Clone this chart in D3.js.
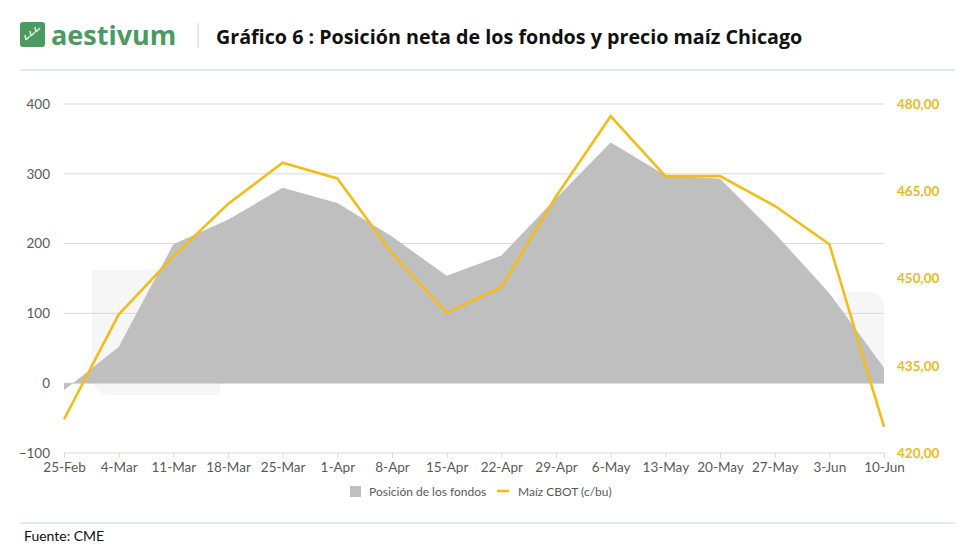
<!DOCTYPE html>
<html>
<head>
<meta charset="utf-8">
<script src="https://cdn.jsdelivr.net/npm/d3@7"></script>
<style>
  body { margin: 0; background: #fff; }
  svg { display: block; }
</style>
</head>
<body>
<svg id="chart" width="980" height="560"></svg>
<script>
const dates = ["25-Feb", "4-Mar", "11-Mar", "18-Mar", "25-Mar", "1-Apr", "8-Apr", "15-Apr",
  "22-Apr", "29-Apr", "6-May", "13-May", "20-May", "27-May", "3-Jun", "10-Jun"];
const fundPosition = [-10, 52, 199, 234, 280, 258, 210, 154, 183, 265, 345, 298, 293, 215, 129, 22];
const cornPrice = [425.8, 443.8, 453.8, 462.8, 469.9, 467.2, 454.3, 444.1, 448.5, 464.1, 477.9,
  467.6, 467.6, 462.5, 455.9, 424.5];
const leftTicks = [-100, 0, 100, 200, 300, 400];
const rightTicks = [420, 435, 450, 465, 480];

const svg = d3.select("#chart");
const margin = {top: 104, right: 96, bottom: 107, left: 64};
const width = 980 - margin.left - margin.right;
const height = 560 - margin.top - margin.bottom;

const gold = "#f2bd1b";
const axisGray = "#595959";

// header
const logo = svg.append("g").attr("transform", "translate(20,22)");
logo.append("rect").attr("width", 25).attr("height", 25).attr("rx", 3).attr("fill", "#4a9a62");
[0, 1, 2].forEach(i => {
  logo.append("path")
    .attr("d", `M${6 + i * 5},${18 - i * 4} l4,-4 M${6 + i * 5},${18 - i * 4} l-1,-5`)
    .attr("stroke", "#d7eadc").attr("stroke-width", 1.6).attr("fill", "none");
});
svg.append("text").attr("x", 51).attr("y", 45)
  .attr("font-family", "Open Sans, sans-serif").attr("font-weight", 700).attr("font-size", 27)
  .attr("fill", "#4a9a62").text("aestivum");
svg.append("line").attr("x1", 198).attr("x2", 198).attr("y1", 23).attr("y2", 48)
  .attr("stroke", "#d0d0d0");
svg.append("text").attr("x", 216).attr("y", 44)
  .attr("font-family", "Open Sans, sans-serif").attr("font-weight", 700).attr("font-size", 19.7)
  .attr("fill", "#111").text("Gráfico 6 : Posición neta de los fondos y precio maíz Chicago");
svg.append("line").attr("x1", 20).attr("x2", 955).attr("y1", 70).attr("y2", 70)
  .attr("stroke", "#dce5e3").attr("stroke-width", 1.5);

// faint watermark behind the plot
svg.append("path")
  .attr("d", "M92,270 H220 V395 H112 Q92,395 92,375 Z")
  .attr("fill", "#f6f6f6");
svg.append("path")
  .attr("d", "M837,303 Q837,292 855,292 H868 Q884,292 884,310 V366 H837 Z")
  .attr("fill", "#f6f6f6");

const x = d3.scalePoint().domain(dates).range([0, width]);
const yLeft = d3.scaleLinear().domain([-100, 400]).range([height, 0]);
const yRight = d3.scaleLinear().domain([420, 480]).range([height, 0]);

const g = svg.append("g").attr("transform", `translate(${margin.left},${margin.top})`);

// gridlines
g.append("g").selectAll("line").data(leftTicks).join("line")
  .attr("x1", 0).attr("x2", width)
  .attr("y1", d => yLeft(d)).attr("y2", d => yLeft(d))
  .attr("stroke", "#d9d9d9").attr("stroke-width", 1);

// area
const area = d3.area()
  .x((d, i) => x(dates[i]))
  .y0(yLeft(0))
  .y1(d => yLeft(d));
g.append("path").datum(fundPosition).attr("d", area).attr("fill", "#bfbfbf");

// line
const line = d3.line()
  .x((d, i) => x(dates[i]))
  .y(d => yRight(d));
g.append("path").datum(cornPrice).attr("d", line)
  .attr("fill", "none").attr("stroke", gold).attr("stroke-width", 2.6)
  .attr("stroke-linejoin", "miter");

// axes
const xAxis = g.append("g").attr("transform", `translate(0,${height})`)
  .call(d3.axisBottom(x).tickSize(5).tickPadding(4));
xAxis.select(".domain").remove();
xAxis.selectAll("line").attr("stroke", "#d9d9d9");
xAxis.selectAll("text").attr("font-family", "Lato, sans-serif").attr("font-size", 13.5)
  .attr("fill", axisGray);

const yAxisL = g.append("g")
  .call(d3.axisLeft(yLeft).tickValues(leftTicks).tickSize(0).tickPadding(14));
yAxisL.select(".domain").remove();
yAxisL.selectAll("text").attr("font-family", "Lato, sans-serif").attr("font-size", 13.5)
  .attr("fill", axisGray);

const yAxisR = g.append("g").attr("transform", `translate(${width},0)`)
  .call(d3.axisRight(yRight).tickValues(rightTicks).tickSize(0).tickPadding(13)
    .tickFormat(d => d3.format(".2f")(d).replace(".", ",")));
yAxisR.select(".domain").remove();
yAxisR.selectAll("text").attr("font-family", "Lato, sans-serif").attr("font-size", 13.5)
  .attr("font-weight", 700).attr("fill", "#eab91f");

// legend
const legend = svg.append("g").attr("transform", "translate(350,492)")
  .attr("font-family", "Lato, sans-serif").attr("font-size", 12).attr("fill", axisGray);
legend.append("rect").attr("x", 0).attr("y", -6).attr("width", 11).attr("height", 11).attr("fill", "#bfbfbf");
legend.append("text").attr("x", 19).attr("y", 4).text("Posición de los fondos");
legend.append("line").attr("x1", 147).attr("x2", 159).attr("y1", -1).attr("y2", -1)
  .attr("stroke", gold).attr("stroke-width", 2.6);
legend.append("text").attr("x", 168).attr("y", 4).text("Maíz CBOT (c/bu)");

// footer
svg.append("line").attr("x1", 20).attr("x2", 955).attr("y1", 523).attr("y2", 523)
  .attr("stroke", "#dce5e3").attr("stroke-width", 1.5);
svg.append("text").attr("x", 24).attr("y", 541)
  .attr("font-family", "Lato, sans-serif").attr("font-size", 14).attr("fill", "#111")
  .text("Fuente: CME");
</script>
</body>
</html>
